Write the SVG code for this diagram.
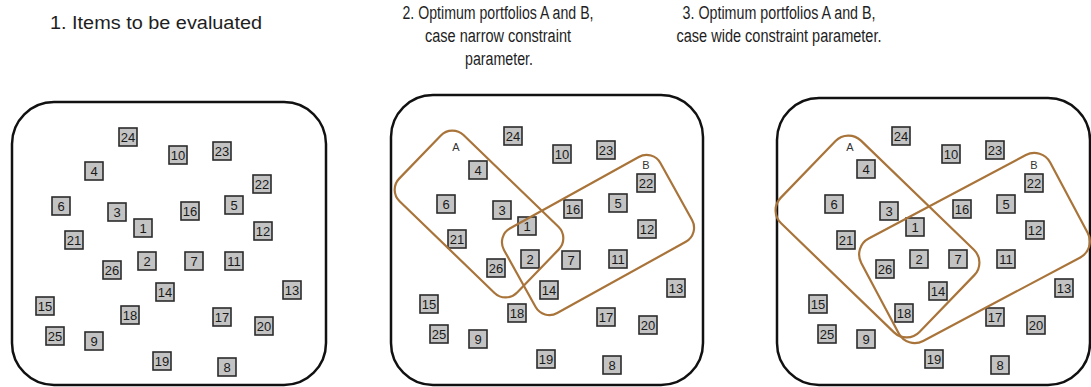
<svg xmlns="http://www.w3.org/2000/svg" width="1091" height="387" viewBox="0 0 1091 387">
  <style>
    .title { font-family: "Liberation Sans", Arial, sans-serif; font-size: 18px; fill: #1e1e1e; }
    .frame { fill: #ffffff; stroke: #111111; stroke-width: 2.5; }
    .item use { fill: #c3c3c3; stroke: #2b2b2b; stroke-width: 1.6; }
    .item text { font-family: "Liberation Sans Narrow", "Liberation Sans", Arial, sans-serif; font-size: 13px; fill: #1a1a1a; text-anchor: middle; }
    .set { fill: none; stroke: #a9743a; stroke-width: 2.2; }
    .setlabel { font-family: "Liberation Sans", Arial, sans-serif; font-size: 11px; fill: #333333; text-anchor: middle; }
  </style>
  <defs>
    <rect id="box" x="-9" y="-9" width="18" height="18"/>
  </defs>

  <rect width="1091" height="387" fill="#ffffff"/>

  <!-- headings -->
  <g id="titles">
    <text class="title" x="50" y="29" textLength="212" lengthAdjust="spacingAndGlyphs">1. Items to be evaluated</text>
    <text class="title" x="498" y="19" text-anchor="middle" textLength="191" lengthAdjust="spacingAndGlyphs">2. Optimum portfolios A and B,</text>
    <text class="title" x="498" y="42" text-anchor="middle" textLength="146" lengthAdjust="spacingAndGlyphs">case narrow constraint</text>
    <text class="title" x="499" y="65" text-anchor="middle" textLength="68" lengthAdjust="spacingAndGlyphs">parameter.</text>
    <text class="title" x="779" y="19" text-anchor="middle" textLength="193" lengthAdjust="spacingAndGlyphs">3. Optimum portfolios A and B,</text>
    <text class="title" x="779" y="42" text-anchor="middle" textLength="205" lengthAdjust="spacingAndGlyphs">case wide constraint parameter.</text>
  </g>

  <!-- panel 1: all items -->
  <g id="panel1">
    <rect class="frame" x="12" y="102" width="314" height="283" rx="42"/>
    <g id="p1-24" class="item" transform="translate(128,137)"><use href="#box"/><text y="4.5">24</text></g>
    <g id="p1-10" class="item" transform="translate(178,155)"><use href="#box"/><text y="4.5">10</text></g>
    <g id="p1-23" class="item" transform="translate(222,151)"><use href="#box"/><text y="4.5">23</text></g>
    <g id="p1-4" class="item" transform="translate(94,171)"><use href="#box"/><text y="4.5">4</text></g>
    <g id="p1-22" class="item" transform="translate(262,184)"><use href="#box"/><text y="4.5">22</text></g>
    <g id="p1-6" class="item" transform="translate(61,206)"><use href="#box"/><text y="4.5">6</text></g>
    <g id="p1-3" class="item" transform="translate(117,212)"><use href="#box"/><text y="4.5">3</text></g>
    <g id="p1-16" class="item" transform="translate(190,211)"><use href="#box"/><text y="4.5">16</text></g>
    <g id="p1-5" class="item" transform="translate(234,205)"><use href="#box"/><text y="4.5">5</text></g>
    <g id="p1-1" class="item" transform="translate(143,228)"><use href="#box"/><text y="4.5">1</text></g>
    <g id="p1-12" class="item" transform="translate(263,231)"><use href="#box"/><text y="4.5">12</text></g>
    <g id="p1-21" class="item" transform="translate(74,240)"><use href="#box"/><text y="4.5">21</text></g>
    <g id="p1-2" class="item" transform="translate(147,261)"><use href="#box"/><text y="4.5">2</text></g>
    <g id="p1-7" class="item" transform="translate(194,261)"><use href="#box"/><text y="4.5">7</text></g>
    <g id="p1-11" class="item" transform="translate(234,261)"><use href="#box"/><text y="4.5">11</text></g>
    <g id="p1-26" class="item" transform="translate(112,270)"><use href="#box"/><text y="4.5">26</text></g>
    <g id="p1-14" class="item" transform="translate(165,292)"><use href="#box"/><text y="4.5">14</text></g>
    <g id="p1-13" class="item" transform="translate(292,290)"><use href="#box"/><text y="4.5">13</text></g>
    <g id="p1-15" class="item" transform="translate(45,306)"><use href="#box"/><text y="4.5">15</text></g>
    <g id="p1-18" class="item" transform="translate(130,315)"><use href="#box"/><text y="4.5">18</text></g>
    <g id="p1-17" class="item" transform="translate(222,317)"><use href="#box"/><text y="4.5">17</text></g>
    <g id="p1-20" class="item" transform="translate(264,326)"><use href="#box"/><text y="4.5">20</text></g>
    <g id="p1-25" class="item" transform="translate(55,336)"><use href="#box"/><text y="4.5">25</text></g>
    <g id="p1-9" class="item" transform="translate(94,341)"><use href="#box"/><text y="4.5">9</text></g>
    <g id="p1-19" class="item" transform="translate(162,361)"><use href="#box"/><text y="4.5">19</text></g>
    <g id="p1-8" class="item" transform="translate(227,367)"><use href="#box"/><text y="4.5">8</text></g>
  </g>

  <!-- panel 2: narrow constraint -->
  <g id="panel2">
    <rect class="frame" x="391" y="95" width="312" height="290" rx="42"/>
    <g id="p2-24" class="item" transform="translate(513,136)"><use href="#box"/><text y="4.5">24</text></g>
    <g id="p2-10" class="item" transform="translate(562,154)"><use href="#box"/><text y="4.5">10</text></g>
    <g id="p2-23" class="item" transform="translate(606,150)"><use href="#box"/><text y="4.5">23</text></g>
    <g id="p2-4" class="item" transform="translate(478,170)"><use href="#box"/><text y="4.5">4</text></g>
    <g id="p2-22" class="item" transform="translate(646,183)"><use href="#box"/><text y="4.5">22</text></g>
    <g id="p2-6" class="item" transform="translate(446,204)"><use href="#box"/><text y="4.5">6</text></g>
    <g id="p2-3" class="item" transform="translate(502,210)"><use href="#box"/><text y="4.5">3</text></g>
    <g id="p2-16" class="item" transform="translate(573,209)"><use href="#box"/><text y="4.5">16</text></g>
    <g id="p2-5" class="item" transform="translate(618,203)"><use href="#box"/><text y="4.5">5</text></g>
    <g id="p2-1" class="item" transform="translate(527,226)"><use href="#box"/><text y="4.5">1</text></g>
    <g id="p2-12" class="item" transform="translate(647,229)"><use href="#box"/><text y="4.5">12</text></g>
    <g id="p2-21" class="item" transform="translate(457,239)"><use href="#box"/><text y="4.5">21</text></g>
    <g id="p2-2" class="item" transform="translate(530,259)"><use href="#box"/><text y="4.5">2</text></g>
    <g id="p2-7" class="item" transform="translate(571,260)"><use href="#box"/><text y="4.5">7</text></g>
    <g id="p2-11" class="item" transform="translate(618,259)"><use href="#box"/><text y="4.5">11</text></g>
    <g id="p2-26" class="item" transform="translate(496,268)"><use href="#box"/><text y="4.5">26</text></g>
    <g id="p2-14" class="item" transform="translate(549,290)"><use href="#box"/><text y="4.5">14</text></g>
    <g id="p2-13" class="item" transform="translate(676,288)"><use href="#box"/><text y="4.5">13</text></g>
    <g id="p2-15" class="item" transform="translate(429,304)"><use href="#box"/><text y="4.5">15</text></g>
    <g id="p2-18" class="item" transform="translate(517,313)"><use href="#box"/><text y="4.5">18</text></g>
    <g id="p2-17" class="item" transform="translate(606,317)"><use href="#box"/><text y="4.5">17</text></g>
    <g id="p2-20" class="item" transform="translate(648,325)"><use href="#box"/><text y="4.5">20</text></g>
    <g id="p2-25" class="item" transform="translate(439,334)"><use href="#box"/><text y="4.5">25</text></g>
    <g id="p2-9" class="item" transform="translate(478,339)"><use href="#box"/><text y="4.5">9</text></g>
    <g id="p2-19" class="item" transform="translate(546,359)"><use href="#box"/><text y="4.5">19</text></g>
    <g id="p2-8" class="item" transform="translate(612,365)"><use href="#box"/><text y="4.5">8</text></g>
  </g>

  <!-- panel 3: wide constraint -->
  <g id="panel3">
    <rect class="frame" x="777" y="98" width="313" height="287" rx="42"/>
    <g id="p3-24" class="item" transform="translate(901,136)"><use href="#box"/><text y="4.5">24</text></g>
    <g id="p3-10" class="item" transform="translate(951,154)"><use href="#box"/><text y="4.5">10</text></g>
    <g id="p3-23" class="item" transform="translate(995,150)"><use href="#box"/><text y="4.5">23</text></g>
    <g id="p3-4" class="item" transform="translate(866,169)"><use href="#box"/><text y="4.5">4</text></g>
    <g id="p3-22" class="item" transform="translate(1034,183)"><use href="#box"/><text y="4.5">22</text></g>
    <g id="p3-6" class="item" transform="translate(834,204)"><use href="#box"/><text y="4.5">6</text></g>
    <g id="p3-3" class="item" transform="translate(889,211)"><use href="#box"/><text y="4.5">3</text></g>
    <g id="p3-16" class="item" transform="translate(962,209)"><use href="#box"/><text y="4.5">16</text></g>
    <g id="p3-5" class="item" transform="translate(1006,204)"><use href="#box"/><text y="4.5">5</text></g>
    <g id="p3-1" class="item" transform="translate(915,227)"><use href="#box"/><text y="4.5">1</text></g>
    <g id="p3-12" class="item" transform="translate(1035,230)"><use href="#box"/><text y="4.5">12</text></g>
    <g id="p3-21" class="item" transform="translate(846,240)"><use href="#box"/><text y="4.5">21</text></g>
    <g id="p3-2" class="item" transform="translate(919,259)"><use href="#box"/><text y="4.5">2</text></g>
    <g id="p3-7" class="item" transform="translate(958,259)"><use href="#box"/><text y="4.5">7</text></g>
    <g id="p3-11" class="item" transform="translate(1006,259)"><use href="#box"/><text y="4.5">11</text></g>
    <g id="p3-26" class="item" transform="translate(885,269)"><use href="#box"/><text y="4.5">26</text></g>
    <g id="p3-14" class="item" transform="translate(938,291)"><use href="#box"/><text y="4.5">14</text></g>
    <g id="p3-13" class="item" transform="translate(1064,288)"><use href="#box"/><text y="4.5">13</text></g>
    <g id="p3-15" class="item" transform="translate(818,304)"><use href="#box"/><text y="4.5">15</text></g>
    <g id="p3-18" class="item" transform="translate(904,313)"><use href="#box"/><text y="4.5">18</text></g>
    <g id="p3-17" class="item" transform="translate(995,317)"><use href="#box"/><text y="4.5">17</text></g>
    <g id="p3-20" class="item" transform="translate(1036,325)"><use href="#box"/><text y="4.5">20</text></g>
    <g id="p3-25" class="item" transform="translate(827,334)"><use href="#box"/><text y="4.5">25</text></g>
    <g id="p3-9" class="item" transform="translate(866,339)"><use href="#box"/><text y="4.5">9</text></g>
    <g id="p3-19" class="item" transform="translate(934,359)"><use href="#box"/><text y="4.5">19</text></g>
    <g id="p3-8" class="item" transform="translate(1000,365)"><use href="#box"/><text y="4.5">8</text></g>
  </g>

  <!-- portfolio outlines A and B -->
  <g id="portfolios">
    <rect class="set" x="-82" y="-46" width="164" height="92" rx="16" transform="translate(479,214) rotate(44)"/>
    <rect class="set" x="-89.5" y="-48.5" width="179" height="97" rx="16" transform="translate(598,235) rotate(-29)"/>
    <rect class="set" x="-96.5" y="-57.5" width="193" height="115" rx="18" transform="translate(877.5,236.5) rotate(44)"/>
    <rect class="set" x="-107" y="-58" width="214" height="116" rx="18" transform="translate(974.5,248) rotate(-28)"/>
    <text class="setlabel" x="456" y="151">A</text>
    <text class="setlabel" x="646" y="169">B</text>
    <text class="setlabel" x="850" y="151">A</text>
    <text class="setlabel" x="1034" y="169">B</text>
  </g>
</svg>
